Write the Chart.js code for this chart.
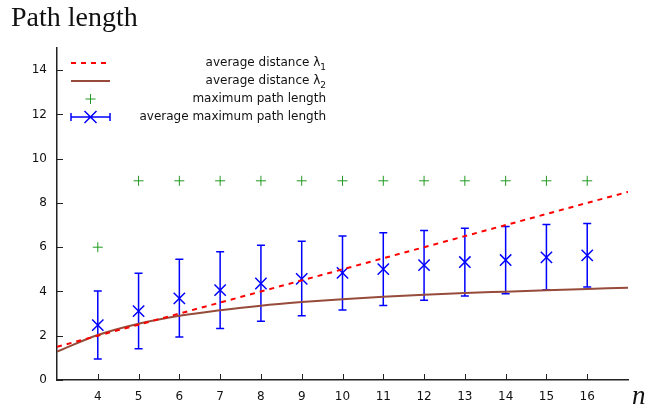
<!DOCTYPE html>
<html>
<head>
<meta charset="utf-8">
<script src="https://cdn.jsdelivr.net/npm/chart.js@4/dist/chart.umd.min.js"></script>
<style>
  body { margin: 0; background: #fff; }
  canvas { display: block; }
</style>
</head>
<body>
<canvas id="pathChart" width="647" height="410"></canvas>
<script>
// curves, sampled at n = 3 .. 17
var curveN = [3, 4, 5, 6, 7, 8, 9, 10, 11, 12, 13, 14, 15, 16, 17];
var lambda1 = [1.5, 2.0, 2.5, 3.0, 3.5, 4.0, 4.5, 5.0, 5.5, 6.0, 6.5, 7.0, 7.5, 8.0, 8.5];
var lambda2 = [1.28, 2.03, 2.54, 2.9, 3.15, 3.36, 3.52, 3.65, 3.76, 3.85, 3.93, 3.99, 4.05, 4.11, 4.17];

// measured points, n = 4 .. 16
var nValues = [4, 5, 6, 7, 8, 9, 10, 11, 12, 13, 14, 15, 16];
var maxPath = [6, 9, 9, 9, 9, 9, 9, 9, 9, 9, 9, 9, 9];
var avgMaxPath = [2.48, 3.11, 3.69, 4.06, 4.36, 4.57, 4.84, 5.01, 5.19, 5.33, 5.42, 5.54, 5.63];
var avgMaxLow = [0.95, 1.41, 1.94, 2.33, 2.65, 2.9, 3.16, 3.37, 3.6, 3.79, 3.9, 4.08, 4.2];
var avgMaxHigh = [4.02, 4.82, 5.46, 5.79, 6.09, 6.27, 6.51, 6.65, 6.76, 6.86, 6.94, 7.03, 7.07];

var xTicks = [4, 5, 6, 7, 8, 9, 10, 11, 12, 13, 14, 15, 16];
var yTicks = [0, 2, 4, 6, 8, 10, 12, 14];

var legendLabels = ['average distance λ', 'average distance λ', 'maximum path length', 'average maximum path length'];
var legendSubs = ['1', '2', '', ''];

var RED = '#ff0000', BROWN = '#964b3b', GREEN = '#229a22', BLUE = '#0000ff';

function toXY(xs, ys) {
  return xs.map(function (x, i) { return { x: x, y: ys[i] }; });
}

// error bars, inward tick marks, legend and titles
var extras = {
  id: 'extras',
  beforeDatasetsDraw: function (chart) {
    var c = chart.ctx, xs = chart.scales.x, ys = chart.scales.y;
    c.save();
    c.strokeStyle = '#222';
    c.lineWidth = 1;
    xTicks.forEach(function (t) {
      var px = Math.round(xs.getPixelForValue(t)) + 0.5;
      c.beginPath(); c.moveTo(px, ys.bottom); c.lineTo(px, ys.bottom - 6); c.stroke();
    });
    yTicks.forEach(function (t) {
      var py = Math.round(ys.getPixelForValue(t)) + 0.5;
      c.beginPath(); c.moveTo(xs.left, py); c.lineTo(xs.left + 6, py); c.stroke();
    });
    // error bars
    c.strokeStyle = BLUE;
    c.lineWidth = 1.5;
    nValues.forEach(function (n, i) {
      var px = xs.getPixelForValue(n);
      var lo = ys.getPixelForValue(avgMaxLow[i]);
      var hi = ys.getPixelForValue(avgMaxHigh[i]);
      c.beginPath();
      c.moveTo(px, lo); c.lineTo(px, hi);
      c.moveTo(px - 4, lo); c.lineTo(px + 4, lo);
      c.moveTo(px - 4, hi); c.lineTo(px + 4, hi);
      c.stroke();
    });
    c.restore();
  },
  afterDraw: function (chart) {
    var c = chart.ctx;
    c.save();
    // title
    c.fillStyle = '#111';
    c.font = '28px "Liberation Serif", serif';
    c.textBaseline = 'alphabetic';
    c.textAlign = 'left';
    c.fillText('Path length', 11, 26);
    c.font = 'italic 27px "Liberation Serif", serif';
    c.fillText('n', 632, 404);

    // legend
    var rows = [63, 81, 99, 117];
    var x0 = 71, x1 = 110, textRight = 326;
    c.lineWidth = 2;
    c.strokeStyle = RED;
    c.setLineDash([5, 5]);
    c.beginPath(); c.moveTo(x0, rows[0]); c.lineTo(x1, rows[0]); c.stroke();
    c.setLineDash([]);
    c.strokeStyle = BROWN;
    c.beginPath(); c.moveTo(x0, rows[1]); c.lineTo(x1, rows[1]); c.stroke();
    c.strokeStyle = GREEN;
    c.lineWidth = 1;
    var mx = (x0 + x1) / 2;
    c.beginPath();
    c.moveTo(mx - 5, rows[2]); c.lineTo(mx + 5, rows[2]);
    c.moveTo(mx, rows[2] - 5); c.lineTo(mx, rows[2] + 5);
    c.stroke();
    c.strokeStyle = BLUE;
    c.lineWidth = 1.5;
    c.beginPath();
    c.moveTo(x0, rows[3]); c.lineTo(x1, rows[3]);
    c.moveTo(x0, rows[3] - 4); c.lineTo(x0, rows[3] + 4);
    c.moveTo(x1, rows[3] - 4); c.lineTo(x1, rows[3] + 4);
    c.moveTo(mx - 6, rows[3] - 6); c.lineTo(mx + 6, rows[3] + 6);
    c.moveTo(mx - 6, rows[3] + 6); c.lineTo(mx + 6, rows[3] - 6);
    c.stroke();

    c.fillStyle = '#111';
    c.textBaseline = 'middle';
    legendLabels.forEach(function (lab, i) {
      var sub = legendSubs[i];
      var right = textRight;
      if (sub) {
        c.font = '9px "DejaVu Sans", sans-serif';
        c.textAlign = 'right';
        c.fillText(sub, right, rows[i] + 5);
        right -= c.measureText(sub).width;
      }
      c.font = '12px "DejaVu Sans", sans-serif';
      c.textAlign = 'right';
      c.fillText(lab, right, rows[i]);
    });
    c.restore();
  }
};

var ctx = document.getElementById('pathChart');
var chart = new Chart(ctx, {
  type: 'scatter',
  data: {
    datasets: [{
      label: 'average distance λ1',
      type: 'line',
      data: toXY(curveN, lambda1),
      borderColor: RED,
      borderWidth: 2,
      borderDash: [5, 5],
      pointRadius: 0,
      fill: false
    }, {
      label: 'average distance λ2',
      type: 'line',
      data: toXY(curveN, lambda2),
      borderColor: BROWN,
      borderWidth: 2,
      cubicInterpolationMode: 'monotone',
      pointRadius: 0,
      fill: false
    }, {
      label: 'maximum path length',
      data: toXY(nValues, maxPath),
      pointStyle: 'cross',
      pointRadius: 5,
      borderColor: GREEN,
      backgroundColor: GREEN,
      borderWidth: 1
    }, {
      label: 'average maximum path length',
      data: toXY(nValues, avgMaxPath),
      pointStyle: 'crossRot',
      pointRadius: 8,
      borderColor: BLUE,
      backgroundColor: BLUE,
      borderWidth: 1.5
    }]
  },
  options: {
    responsive: false,
    animation: false,
    layout: { padding: { top: 48, right: 19, left: 0, bottom: 0 } },
    plugins: {
      legend: { display: false },
      tooltip: { enabled: false }
    },
    scales: {
      x: {
        type: 'linear',
        min: 3,
        max: 17,
        afterBuildTicks: function (s) { s.ticks = xTicks.map(function (v) { return { value: v }; }); },
        afterFit: function (s) { s.height = 30; },
        grid: { display: false, drawTicks: false },
        border: { display: true, color: '#222', width: 1.5 },
        ticks: { color: '#111', padding: 10, font: { family: 'DejaVu Sans', size: 12 } }
      },
      y: {
        type: 'linear',
        min: 0,
        max: 15,
        afterBuildTicks: function (s) { s.ticks = yTicks.map(function (v) { return { value: v }; }); },
        afterFit: function (s) { s.width = 57; },
        grid: { display: false, drawTicks: false },
        border: { display: true, color: '#222', width: 1.5 },
        ticks: { color: '#111', padding: 10, font: { family: 'DejaVu Sans', size: 12 } }
      }
    }
  },
  plugins: [extras]
});
</script>
</body>
</html>
